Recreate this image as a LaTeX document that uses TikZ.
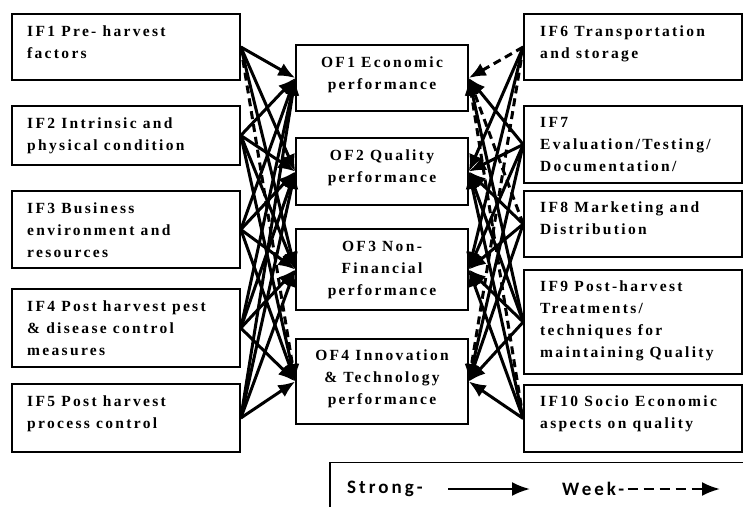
\documentclass[tikz,border=0pt]{standalone}
\usepackage{fontspec}
\setmainfont{Liberation Serif}[LetterSpace=15]
\newfontfamily\legendfont{Carlito}[LetterSpace=16]
\usetikzlibrary{arrows.meta}
\tikzset{
  fbox/.style={draw, line width=1.6pt, inner sep=0pt},
  ftext/.style={inner sep=0pt, font=\fontsize{15.5}{22}\selectfont\bfseries},
  strong/.style={line width=3pt, -{Latex[length=17pt,width=14pt]}},
  weak/.style={strong, dash pattern=on 8pt off 5pt},
  legtext/.style={anchor=west, inner sep=0pt, font=\legendfont\fontsize{19}{20}\selectfont\bfseries},
}
\begin{document}
\begin{tikzpicture}[x=1pt,y=-1pt]
        \useasboundingbox (0,0) rectangle (743,507);
        % Factores de entrada (izquierda)
        \node[fbox, minimum width=228pt, minimum height=66pt] (if1) at (126,47) {};
        \node[fbox, minimum width=228pt, minimum height=59pt] (if2) at (126,135.5) {};
        \node[fbox, minimum width=228pt, minimum height=77pt] (if3) at (126,229.5) {};
        \node[fbox, minimum width=228pt, minimum height=78pt] (if4) at (126,328) {};
        \node[fbox, minimum width=228pt, minimum height=68pt] (if5) at (126,418) {};
        \node[ftext, anchor=north west, align=left] (if1t) at (27,26) {IF1 Pre- harvest\\factors};
        \node[ftext, anchor=north west, align=left] (if2t) at (27,118) {IF2 Intrinsic and\\physical condition};
        \node[ftext, anchor=north west, align=left] (if3t) at (27,203) {IF3 Business\\environment and\\resources};
        \node[ftext, anchor=north west, align=left] (if4t) at (27,301) {IF4 Post harvest pest\\\& disease control\\measures};
        \node[ftext, anchor=north west, align=left] (if5t) at (27,396) {IF5 Post harvest\\process control};
        % Factores de salida (centro)
        \node[fbox, minimum width=172pt, minimum height=66pt] (of1) at (382,78) {};
        \node[fbox, minimum width=172pt, minimum height=67pt] (of2) at (382,171.5) {};
        \node[fbox, minimum width=172pt, minimum height=81pt] (of3) at (382,269.5) {};
        \node[fbox, minimum width=172pt, minimum height=85pt] (of4) at (382,381.5) {};
        \node[ftext, anchor=north, align=center] (of1t) at (382,57) {OF1 Economic\\performance};
        \node[ftext, anchor=north, align=center] (of2t) at (382,150) {OF2 Quality\\performance};
        \node[ftext, anchor=north, align=center] (of3t) at (382,241) {OF3 Non-\\Financial\\performance};
        \node[ftext, anchor=north, align=center] (of4t) at (382,350) {OF4 Innovation\\\& Technology\\performance};
        % Factores de entrada (derecha)
        \node[fbox, minimum width=218pt, minimum height=66pt] (if6) at (633,47) {};
        \node[fbox, minimum width=218pt, minimum height=77pt] (if7) at (633,144.5) {};
        \node[fbox, minimum width=218pt, minimum height=66pt] (if8) at (633,224) {};
        \node[fbox, minimum width=218pt, minimum height=104pt] (if9) at (633,322) {};
        \node[fbox, minimum width=218pt, minimum height=67pt] (if10) at (633,418.5) {};
        \node[ftext, anchor=north west, align=left] (if6t) at (540,26) {IF6 Transportation\\and storage};
        \node[ftext, anchor=north west, align=left] (if7t) at (540,117) {IF7\\Evaluation/Testing/\\Documentation/};
        \node[ftext, anchor=north west, align=left] (if8t) at (540,202) {IF8 Marketing and\\Distribution};
        \node[ftext, anchor=north west, align=left] (if9t) at (540,281) {IF9 Post-harvest\\Treatments/\\techniques for\\maintaining Quality};
        \node[ftext, anchor=north west, align=left] (if10t) at (540,396) {IF10 Socio Economic\\aspects on quality};
        % Relaciones fuertes
        \foreach \i/\o in {1/1,1/2,1/3,2/1,2/2,2/3,2/4,3/1,3/2,3/3,3/4,4/1,4/2,4/3,4/4,5/1,5/2,5/3,5/4}
          \draw[strong] (if\i.east) -- (of\o.west);
        \foreach \i/\o in {6/2,6/3,7/1,7/2,7/3,7/4,8/2,8/3,8/4,9/1,9/2,9/3,9/4,10/2,10/3,10/4}
          \draw[strong] (if\i.west) -- (of\o.east);
        % Relaciones debiles
        \draw[weak] (if1.east) -- (of4.west);
        \foreach \i/\o in {6/1,6/4,8/1,10/1}
          \draw[weak] (if\i.west) -- (of\o.east);
        % Leyenda
        \draw[line width=1.6pt] (330,507) -- (330,462.5) -- (743,462.5);
        \node[legtext] (lstrong) at (347,489) {Strong-};
        \node[legtext] (lweak) at (562,489) {Week-};
        \coordinate (s1) at (448,489);
        \coordinate (s2) at (530,489);
        \coordinate (w1) at ([xshift=3pt]lweak.east);
        \coordinate (w2) at (720,489);
        \draw[line width=2.4pt, -{Latex[length=18pt,width=14pt]}] (s1) -- (s2);
        \draw[line width=2.4pt, dash pattern=on 10pt off 6pt, -{Latex[length=18pt,width=14pt]}] (w1) -- (w2);
    \end{tikzpicture}
\end{document}
